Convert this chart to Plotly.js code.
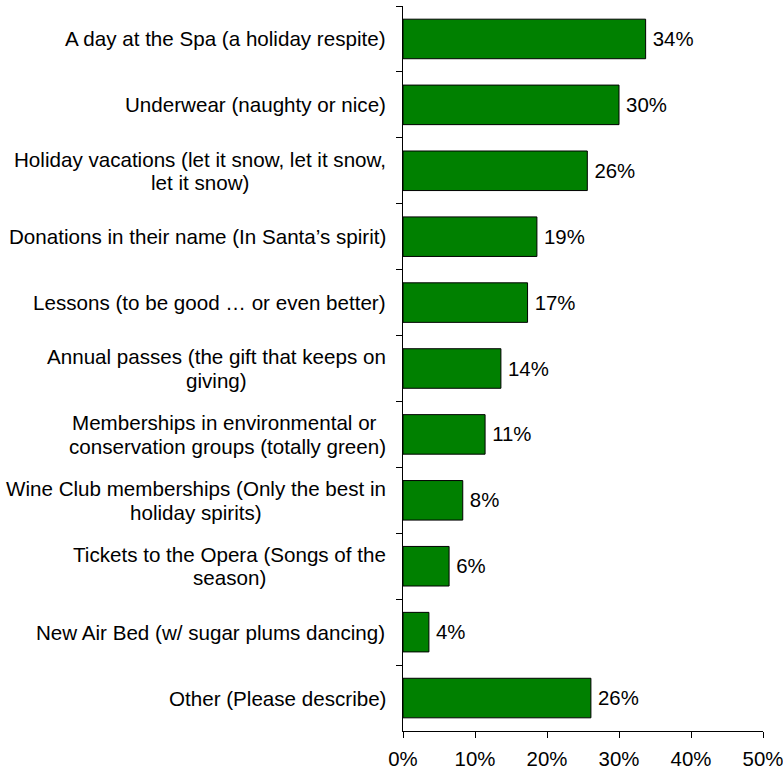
<!DOCTYPE html>
<html>
<head>
<meta charset="utf-8">
<script src="https://cdn.plot.ly/plotly-3.0.1.min.js"></script>
<style>html,body{margin:0;padding:0;background:#fff;}#chart{width:783px;height:770px;}</style>
</head>
<body>
<div id="chart"></div>
<script>
var categories = [
  "A day at the Spa (a holiday respite)",
  "Underwear (naughty or nice)",
  "Holiday vacations (let it snow, let it snow,<br>let it snow)",
  "Donations in their name (In Santa\u2019s spirit)",
  "Lessons (to be good \u2026 or even better)",
  "Annual passes (the gift that keeps on<br>giving)",
  "Memberships in environmental or <br>conservation groups (totally green)",
  "Wine Club memberships (Only the best in<br>holiday spirits)",
  "Tickets to the Opera (Songs of the<br>season)",
  "New Air Bed (w/ sugar plums dancing)",
  "Other (Please describe)"
];
var values = [0.337, 0.300, 0.256, 0.186, 0.173, 0.136, 0.114, 0.083, 0.064, 0.036, 0.261];
var valueLabels = ["34%", "30%", "26%", "19%", "17%", "14%", "11%", "8%", "6%", "4%", "26%"];
var xTickVals = [0, 0.1, 0.2, 0.3, 0.4, 0.5];
var xTickText = ["0%", "10%", "20%", "30%", "40%", "50%"];

var FONT = "Liberation Sans, Arial, sans-serif";
var LABEL_SIZE = 20.6;
var TICK_SIZE = 20.4;
var LINE_PITCH = 23.5;
var LABEL_GAP = 17;

var trace = {
  type: "bar",
  orientation: "h",
  x: values,
  y: categories,
  text: valueLabels.map(function (t) { return "\u2009" + t; }),
  textposition: "outside",
  cliponaxis: false,
  textfont: {family: FONT, size: TICK_SIZE, color: "#000"},
  marker: {color: "#008000", line: {color: "#000", width: 1}},
  hoverinfo: "none"
};

var ctx = document.createElement("canvas").getContext("2d");
ctx.font = LABEL_SIZE + "px 'Liberation Sans', Arial, sans-serif";

var annotations = [];
categories.forEach(function (c) {
  var lines = c.split("<br>");
  var maxW = 0;
  lines.forEach(function (l) { maxW = Math.max(maxW, ctx.measureText(l.replace(/\s+$/, "")).width); });
  var n = lines.length;
  lines.forEach(function (l, i) {
    annotations.push({
      xref: "paper", yref: "y", x: 0, y: c,
      text: l, showarrow: false,
      xanchor: "center", yanchor: "middle", align: "center",
      xshift: -LABEL_GAP - maxW / 2,
      yshift: ((n - 1) / 2 - i) * LINE_PITCH,
      font: {family: FONT, size: LABEL_SIZE, color: "#000"}
    });
  });
});

var layout = {
  width: 783, height: 770,
  margin: {l: 403, r: 20, t: 6, b: 39},
  paper_bgcolor: "#fff", plot_bgcolor: "#fff",
  showlegend: false,
  bargap: 0.4,
  font: {family: FONT, size: TICK_SIZE, color: "#000"},
  xaxis: {
    range: [0, 0.5],
    tickvals: xTickVals, ticktext: xTickText,
    showgrid: false, zeroline: false,
    showline: true, linecolor: "#000", linewidth: 1,
    ticks: "outside", ticklen: 6, tickcolor: "#000",
    ticklabelstandoff: 4,
    ticklabeloverflow: "allow",
    tickfont: {family: FONT, size: TICK_SIZE, color: "#000"},
    fixedrange: true
  },
  yaxis: {
    type: "category",
    autorange: "reversed",
    showgrid: false, zeroline: false,
    showline: true, linecolor: "#000", linewidth: 1,
    ticks: "outside", ticklen: 6, tickcolor: "#000",
    tickson: "boundaries",
    showticklabels: false,
    fixedrange: true
  },
  annotations: annotations
};

Plotly.newPlot("chart", [trace], layout, {displayModeBar: false, staticPlot: true});
</script>
</body>
</html>
